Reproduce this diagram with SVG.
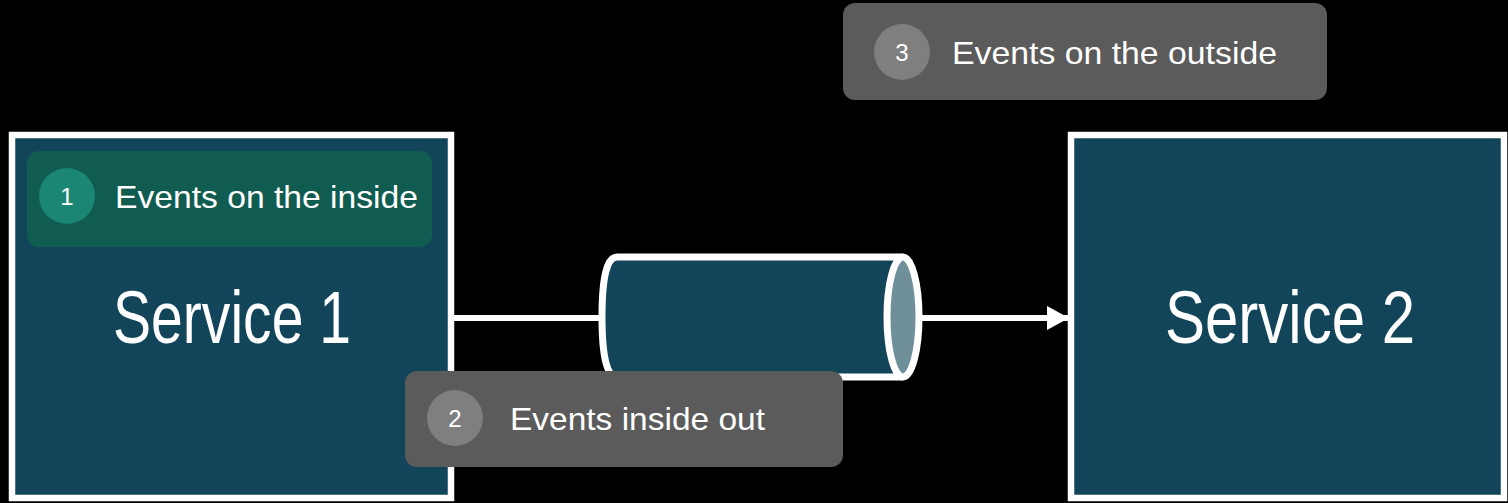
<svg xmlns="http://www.w3.org/2000/svg" width="1508" height="503" viewBox="0 0 1508 503">
<style>
.svc{fill:#124559;stroke:#ffffff;stroke-width:6.5}
.big{font-family:"Liberation Sans",Arial,sans-serif;font-size:74px;fill:#ffffff;text-anchor:middle}
.lbl{font-family:"Liberation Sans",Arial,sans-serif;font-size:32px;fill:#ffffff}
.num{font-family:"Liberation Sans",Arial,sans-serif;font-size:24px;fill:#ffffff;text-anchor:middle}
.gray{fill:#5b5b5b}
.grayc{fill:#7f7f7f}
.conn{stroke:#ffffff;stroke-width:6;fill:none}
</style>
<defs>
<marker id="ah" viewBox="0 0 22 24" refX="21" refY="12" markerWidth="22" markerHeight="24" markerUnits="userSpaceOnUse" orient="auto">
<path d="M0,0 L22,12 L0,24 Z" fill="#ffffff"/>
</marker>
</defs>
<rect width="1508" height="503" fill="#000000"/>
<g id="service1">
<rect class="svc" x="12" y="135" width="439" height="363"/>
<text class="big" x="232" y="343" textLength="238" lengthAdjust="spacingAndGlyphs">Service 1</text>
</g>
<g id="service2">
<rect class="svc" x="1071" y="135" width="433" height="363"/>
<text class="big" x="1290" y="343" textLength="250" lengthAdjust="spacingAndGlyphs">Service 2</text>
</g>
<g id="connectors">
<line class="conn" x1="451" y1="318" x2="602" y2="318"/>
<line class="conn" x1="922" y1="318" x2="1068" y2="318" marker-end="url(#ah)"/>
</g>
<g id="queue">
<path d="M903,257 L617,257 Q602,257 602,317 Q602,377 617,377 L903,377" fill="#124559" stroke="#ffffff" stroke-width="7"/>
<ellipse cx="903" cy="317" rx="16" ry="60" fill="#6f8f9b" stroke="#ffffff" stroke-width="7"/>
</g>
<g id="badge1">
<rect x="27" y="151" width="405" height="96" rx="12" fill="#115c50"/>
<circle cx="67" cy="196" r="28" fill="#1a8673"/>
<text class="num" x="67" y="205">1</text>
<text class="lbl" x="115" y="208" textLength="303" lengthAdjust="spacingAndGlyphs">Events on the inside</text>
</g>
<g id="badge2">
<rect class="gray" x="405" y="371" width="438" height="96" rx="12"/>
<circle class="grayc" cx="455" cy="418" r="28"/>
<text class="num" x="455" y="427">2</text>
<text class="lbl" x="510" y="430" textLength="255" lengthAdjust="spacingAndGlyphs">Events inside out</text>
</g>
<g id="badge3">
<rect class="gray" x="843" y="3" width="484" height="97" rx="12"/>
<circle class="grayc" cx="902" cy="52" r="28"/>
<text class="num" x="902" y="61">3</text>
<text class="lbl" x="952" y="64" textLength="325" lengthAdjust="spacingAndGlyphs">Events on the outside</text>
</g>
</svg>
